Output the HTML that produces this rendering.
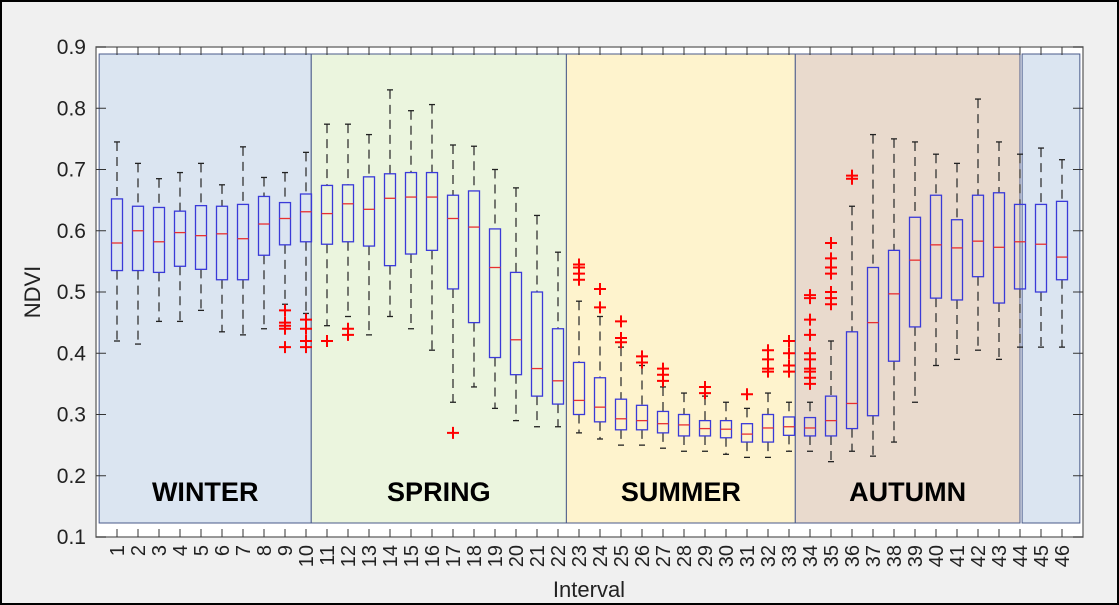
<!DOCTYPE html>
<html><head><meta charset="utf-8"><style>
html,body{margin:0;padding:0;background:#f0f0f0}
svg{display:block;font-family:"Liberation Sans",sans-serif}
</style></head><body>
<svg id="chart" width="1119" height="605" viewBox="0 0 1119 605">
<rect x="1" y="1" width="1117" height="603" fill="#f0f0f0" stroke="#000" stroke-width="2"/>
<rect x="96" y="47" width="987" height="490" fill="#fff" stroke="#777" stroke-width="1.5"/>
<g id="seasons"></g><g id="ticks"></g><g id="boxes"></g>
<text x="40" y="292" font-size="22" fill="#222" text-anchor="middle" transform="rotate(-90 40 292)">NDVI</text>
<text x="589" y="597" font-size="22" fill="#222" text-anchor="middle">Interval</text>
</svg>
<script>
const intervals=[];for(let i=1;i<=46;i++)intervals.push(i);
const whiskerHigh=[.745,.71,.685,.695,.71,.675,.737,.687,.695,.728,.774,.774,.757,.83,.796,.806,.74,.738,.70,.67,.625,.565,.485,.46,.41,.38,.345,.335,.33,.32,.31,.335,.32,.32,.42,.64,.757,.75,.745,.725,.71,.815,.745,.725,.735,.716];
const q3=[.652,.64,.638,.632,.641,.64,.643,.656,.646,.66,.674,.675,.688,.693,.695,.695,.658,.665,.603,.532,.50,.44,.385,.36,.325,.315,.305,.30,.29,.29,.285,.30,.296,.295,.33,.435,.54,.568,.622,.658,.618,.658,.662,.643,.643,.648];
const medians=[.58,.60,.582,.597,.592,.595,.587,.611,.62,.631,.628,.644,.635,.653,.655,.655,.62,.606,.54,.422,.375,.355,.323,.312,.293,.29,.285,.283,.277,.276,.268,.278,.28,.278,.29,.318,.45,.497,.552,.577,.572,.583,.573,.582,.578,.557];
const q1=[.535,.535,.532,.542,.537,.52,.52,.56,.577,.582,.578,.582,.575,.543,.562,.568,.505,.45,.393,.365,.33,.317,.30,.288,.275,.275,.27,.265,.265,.262,.255,.255,.266,.265,.265,.277,.298,.387,.443,.49,.487,.525,.482,.505,.50,.52];
const whiskerLow=[.42,.415,.452,.452,.47,.435,.43,.44,.48,.465,.445,.46,.43,.46,.44,.405,.32,.345,.31,.29,.28,.28,.27,.26,.25,.25,.245,.24,.24,.235,.23,.23,.24,.24,.223,.24,.232,.255,.32,.38,.39,.405,.39,.41,.41,.41];
const outliers={9:[.47,.45,.445,.44,.41],10:[.455,.44,.42,.41],11:[.42],12:[.44,.43],17:[.27],23:[.545,.54,.53,.52],24:[.505,.475],25:[.452,.425,.418],26:[.395,.385],27:[.375,.365,.355],29:[.345,.335],31:[.333],32:[.405,.39,.375,.37],33:[.42,.40,.38,.37],34:[.495,.49,.455,.43,.40,.39,.375,.37,.36,.35],35:[.58,.555,.54,.53,.50,.49,.48],36:[.69,.685]};
const yTicks=[0.1,0.2,0.3,0.4,0.5,0.6,0.7,0.8,0.9];
const seasonNames=["WINTER","SPRING","SUMMER","AUTUMN",""];
const seasonStart=[0.15,10.25,22.4,33.3,44.1];
const seasonEnd=[10.25,22.4,33.3,44.0,46.85];
const seasonColors=["#dbe5f1","#ebf5de","#fef3cd","#e9dacd","#dbe5f1"];

const NS="http://www.w3.org/2000/svg";
const X=i=>96+i*21;
const Y=v=>47+(0.9-v)*612.5;
function mk(tag,attrs,parent){const e=document.createElementNS(NS,tag);for(const k in attrs)e.setAttribute(k,attrs[k]);parent.appendChild(e);return e;}
const gS=document.getElementById('seasons'),gT=document.getElementById('ticks'),gB=document.getElementById('boxes');
seasonNames.forEach((n,k)=>{
  const r=mk('rect',{x:X(seasonStart[k]),y:54,width:X(seasonEnd[k])-X(seasonStart[k]),height:469,fill:seasonColors[k],stroke:'#4a5a8a','stroke-width':1},gS);
  
  
  if(n){const t=mk('text',{x:(X(seasonStart[k])+X(seasonEnd[k]))/2,y:501,'font-size':27,'font-weight':'bold','text-anchor':'middle',fill:'#000'},gS);t.textContent=n;
  
  }
});
yTicks.forEach(v=>{
  const y=Y(v);
  mk('line',{x1:96,x2:106,y1:y,y2:y,stroke:'#333'},gT);
  mk('line',{x1:1073,x2:1083,y1:y,y2:y,stroke:'#333'},gT);
  const t=mk('text',{x:86,y:y+7,'font-size':21,'text-anchor':'end',fill:'#222'},gT);t.textContent=v.toFixed(1);
  
  
});
intervals.forEach((iv,k)=>{
  const x=X(iv);
  mk('line',{x1:x,x2:x,y1:537,y2:529,stroke:'#333'},gT);
  mk('line',{x1:x,x2:x,y1:47,y2:55,stroke:'#333'},gT);
  const t=mk('text',{x:x+7,y:545,'font-size':20,'text-anchor':'end',fill:'#222',transform:`rotate(-90 ${x+7} 545)`},gT);t.textContent=iv;
  
  
  const g=mk('g',{},gB);
  
  
  mk('line',{x1:x,x2:x,y1:Y(whiskerHigh[k]),y2:Y(q3[k]),stroke:'#333','stroke-width':1.3,'stroke-dasharray':'9 6'},g);
  mk('line',{x1:x,x2:x,y1:Y(q1[k]),y2:Y(whiskerLow[k]),stroke:'#333','stroke-width':1.3,'stroke-dasharray':'9 6'},g);
  mk('line',{x1:x-3,x2:x+3,y1:Y(whiskerHigh[k]),y2:Y(whiskerHigh[k]),stroke:'#222','stroke-width':1.3},g);
  mk('line',{x1:x-3,x2:x+3,y1:Y(whiskerLow[k]),y2:Y(whiskerLow[k]),stroke:'#222','stroke-width':1.3},g);
  mk('rect',{x:x-5.5,y:Y(q3[k]),width:11,height:Y(q1[k])-Y(q3[k]),fill:'none',stroke:'#3a3ad8','stroke-width':1.3},g);
  mk('line',{x1:x-5.5,x2:x+5.5,y1:Y(medians[k]),y2:Y(medians[k]),stroke:'#e83030','stroke-width':1.3},g);
  (outliers[iv]||[]).forEach(o=>{
    const p=mk('path',{d:`M${x-6} ${Y(o)}h12M${x} ${Y(o)-6}v12`,stroke:'#f00','stroke-width':2},g);
    
    
  });
});
</script>
</body></html>
